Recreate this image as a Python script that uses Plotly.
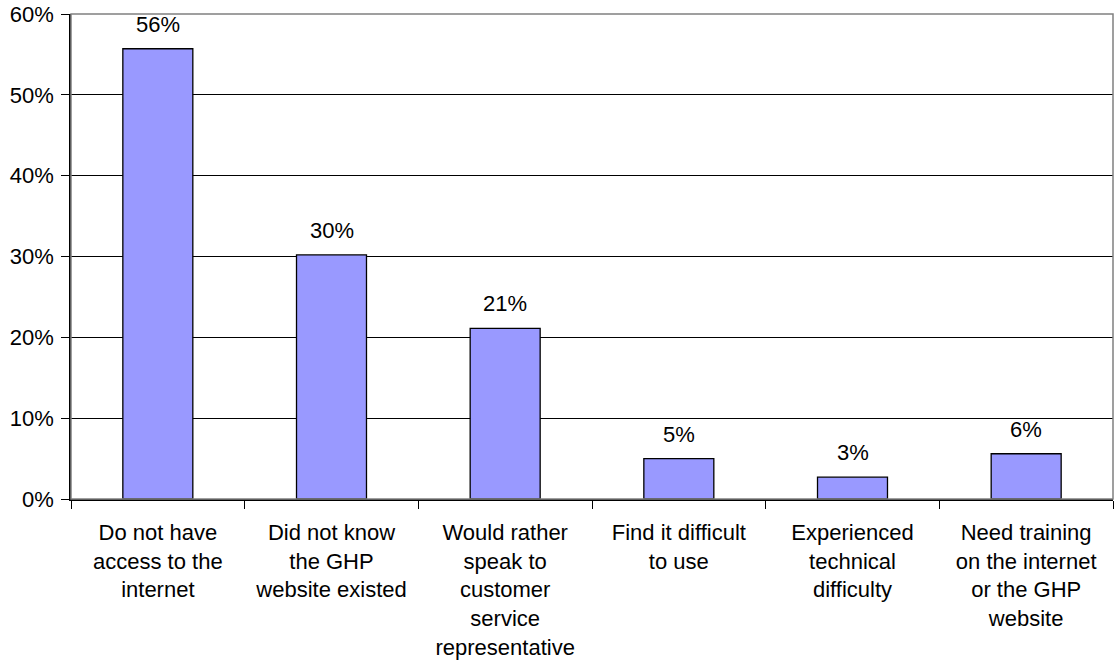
import plotly.graph_objects as go

# Survey responses: reasons for not using the GHP website
categories = [
    "Do not have<br>access to the<br>internet",
    "Did not know<br>the GHP<br>website existed",
    "Would rather<br>speak to<br>customer<br>service<br>representative",
    "Find it difficult<br>to use",
    "Experienced<br>technical<br>difficulty",
    "Need training<br>on the internet<br>or the GHP<br>website",
]
shares = [55.7, 30.2, 21.1, 5.0, 2.7, 5.6]  # percent of respondents
y_ticks = [0, 10, 20, 30, 40, 50, 60]
y_tick_text = [f"{t}%" for t in y_ticks]

FONT = "Liberation Sans, Arial, sans-serif"
FS = 22

fig = go.Figure(
    go.Bar(
        x=categories,
        y=shares,
        marker=dict(color="#9999FF", line=dict(color="#000000", width=1.3)),
        hoverinfo="skip",
    )
)

# value labels above each bar
for cat, val in zip(categories, shares):
    fig.add_annotation(
        x=cat, y=val, text=f"{val:.0f}%", showarrow=False,
        yanchor="bottom", yshift=10,
        font=dict(family=FONT, size=FS, color="#000000"),
    )

# grey plot-area frame (top and right edges)
fig.add_shape(
    type="rect", xref="paper", yref="paper", x0=0, x1=1, y0=0, y1=1,
    line=dict(color="#808080", width=1.5), layer="above",
)

fig.update_layout(
    width=1115, height=663,
    margin=dict(l=71, r=2, t=12, b=164),
    paper_bgcolor="#FFFFFF", plot_bgcolor="#FFFFFF",
    bargap=0.597,
    showlegend=False,
    font=dict(family=FONT, size=FS, color="#000000"),
)
fig.update_xaxes(
    showline=True, linecolor="#000000", linewidth=1.5,
    ticks="outside", tickson="boundaries", ticklen=8, tickcolor="#000000", tickwidth=1,
    tickfont=dict(family=FONT, size=FS, color="#000000"),
    ticklabelstandoff=13,
    showgrid=False, layer="above traces",
)
fig.update_yaxes(
    range=[0, 60], tickvals=y_ticks, ticktext=y_tick_text,
    showline=True, linecolor="#000000", linewidth=1.5,
    ticks="outside", ticklen=8, tickcolor="#000000", tickwidth=1,
    tickfont=dict(family=FONT, size=FS, color="#000000"),
    ticklabelstandoff=3, ticklabeloverflow="allow",
    showgrid=True, gridcolor="#000000", gridwidth=1,
    zeroline=False,
)

fig.write_html("out.html")
